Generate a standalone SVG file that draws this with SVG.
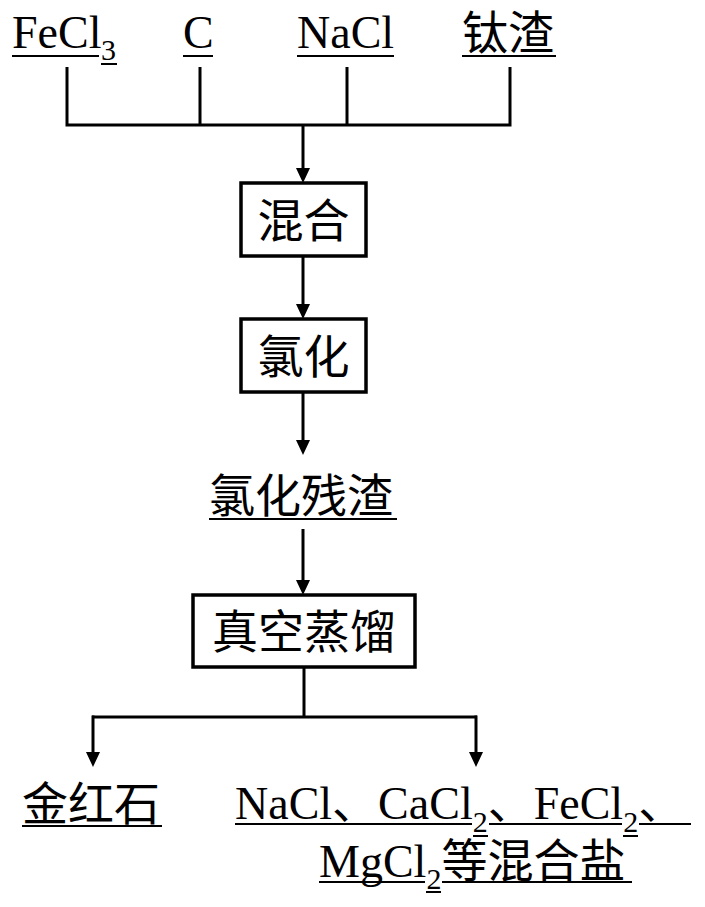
<svg xmlns="http://www.w3.org/2000/svg" width="705" height="907" viewBox="0 0 705 907">
<style>
text{font-family:"Liberation Serif","Noto Sans CJK SC",serif;font-size:46px;fill:#000}
.sub{font-size:30px}
.u{stroke:#000;stroke-width:2}
.c{stroke:#000;stroke-width:3;fill:none}
.box{fill:#fff;stroke:#000;stroke-width:3.5}
</style>
<defs>
<marker id="ah" markerUnits="userSpaceOnUse" markerWidth="16" markerHeight="14" refX="8" refY="7" orient="auto">
<path d="M0,0 L15,7 L0,14 z" fill="#000"/>
</marker>
</defs>
<rect width="705" height="907" fill="#fff"/>
<g id="connectors">
<path class="c" d="M67,67 V125 M200,67 V125 M347,67 V125 M510,67 V125 M65.5,125 H511.5"/>
<path class="c" d="M303,125 V176" marker-end="url(#ah)"/>
<path class="c" d="M303,256 V312" marker-end="url(#ah)"/>
<path class="c" d="M303,392 V448" marker-end="url(#ah)"/>
<path class="c" d="M303,529 V588" marker-end="url(#ah)"/>
<path class="c" d="M304,667 V717 M92,717 H477"/>
<path class="c" d="M93,715.5 V760" marker-end="url(#ah)"/>
<path class="c" d="M476,715.5 V760" marker-end="url(#ah)"/>
</g>
<g id="n-fecl3">
<text x="12" y="48">FeCl</text><text class="sub" x="101" y="60">3</text>
<line class="u" x1="12" y1="56" x2="99" y2="56"/><line class="u" x1="101" y1="64" x2="117" y2="64"/>
</g>
<g id="n-c">
<text x="183" y="48">C</text>
<line class="u" x1="183" y1="56" x2="213" y2="56"/>
</g>
<g id="n-nacl">
<text x="297" y="48">NaCl</text>
<line class="u" x1="297" y1="56" x2="394" y2="56"/>
</g>
<g id="n-taizha">
<text x="462" y="49">钛渣</text>
<line class="u" x1="462" y1="56" x2="556" y2="56"/>
</g>
<g id="n-hunhe">
<rect class="box" x="241" y="183" width="125" height="73"/>
<text x="303.5" y="237" text-anchor="middle">混合</text>
</g>
<g id="n-lvhua">
<rect class="box" x="241" y="319" width="125" height="73"/>
<text x="303.5" y="373" text-anchor="middle">氯化</text>
</g>
<g id="n-canzha">
<text x="209" y="512">氯化残渣</text>
<line class="u" x1="209" y1="519" x2="397" y2="519"/>
</g>
<g id="n-zhengliu">
<rect class="box" x="193" y="595" width="222" height="72"/>
<text x="304" y="648" text-anchor="middle">真空蒸馏</text>
</g>
<g id="n-jinhongshi">
<text x="22" y="820">金红石</text>
<line class="u" x1="22" y1="826" x2="162" y2="826"/>
</g>
<g id="n-salts">
<text x="235" y="819">NaCl、CaCl<tspan class="sub" dy="13">2</tspan><tspan dy="-13">、FeCl</tspan><tspan class="sub" dy="13">2</tspan><tspan dy="-13">、</tspan></text>
<line class="u" x1="235" y1="824" x2="472" y2="824"/><line class="u" x1="473" y1="836" x2="488" y2="836"/>
<line class="u" x1="489" y1="824" x2="622" y2="824"/><line class="u" x1="623" y1="836" x2="638" y2="836"/>
<line class="u" x1="639" y1="824" x2="691" y2="824"/>
<text x="319" y="877">MgCl<tspan class="sub" dy="12">2</tspan><tspan dy="-12">等混合盐</tspan></text>
<line class="u" x1="319" y1="882" x2="425" y2="882"/><line class="u" x1="426" y1="892" x2="441" y2="892"/>
<line class="u" x1="442" y1="882" x2="632" y2="882"/>
</g>
</svg>
